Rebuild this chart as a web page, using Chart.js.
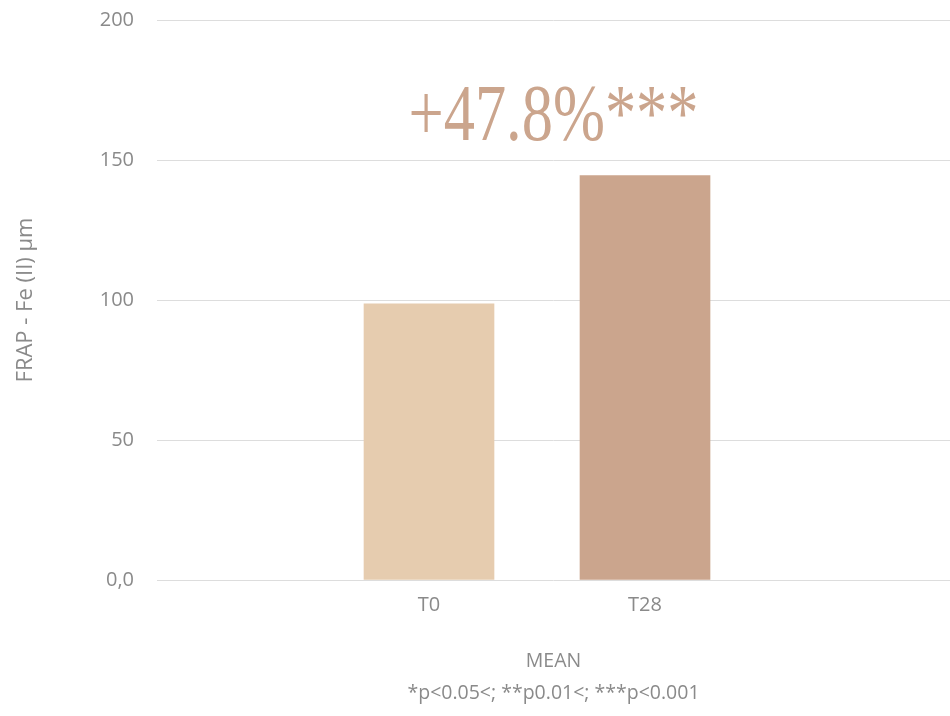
<!DOCTYPE html>
<html>
<head>
<meta charset="utf-8">
<script src="https://cdn.jsdelivr.net/npm/chart.js@4/dist/chart.umd.min.js"></script>
<style>
	html, body { margin: 0; padding: 0; background: #fff; }
	#wrap { width: 950px; height: 716px; }
</style>
</head>
<body>
<div id="wrap"><canvas id="bar-chartcanvas"></canvas></div>
<script>
// data
var categories = ["T0", "T28"];
var meanValues = [98.6, 144.4];
var barColors = ["#e6ccaf", "#cba58d"];
var yTicks = [0, 50, 100, 150, 200];
var yTitle = "FRAP - Fe (II) µm";
var xTitle = ["MEAN", "*p<0.05<; **p0.01<; ***p<0.001"];
var changeLabel = "+47.8%***";

var grey = "#8a8a8a";
var sans = "'Open Sans', sans-serif";

// the big percentage over the bars
var changeText = {
	id : "changeText",
	afterDraw : function(chart) {
		var ctx = chart.ctx;
		var area = chart.chartArea;
		var y = chart.scales.y.getPixelForValue(157);
		var x = (area.left + area.right) / 2;
		ctx.save();
		ctx.font = "80px 'Liberation Serif', serif";
		ctx.fillStyle = "#cba58d";
		ctx.textBaseline = "alphabetic";
		ctx.textAlign = "center";
		var w = ctx.measureText(changeLabel).width;
		var sx = 290 / w;
		ctx.translate(x, y);
		ctx.scale(sx, 1);
		ctx.fillText(changeLabel, 0, 0);
		ctx.restore();
	}
};

var ctx = document.getElementById("bar-chartcanvas");

var data = {
	datasets : [
		{
			label : "MEAN",
			data : categories.map(function(c, i) { return { x : i + 1, y : meanValues[i] }; }),
			backgroundColor : barColors,
			borderWidth : 0,
			barThickness : 130
		}
	]
};

var options = {
	responsive : true,
	maintainAspectRatio : false,
	animation : false,
	layout : {
		padding : { top : 20, right : 0, bottom : 0, left : 0 }
	},
	plugins : {
		legend : { display : false },
		tooltip : { enabled : false }
	},
	scales : {
		x : {
			type : "linear",
			offset : false,
			min : -0.2593,
			max : 3.412,
			afterBuildTicks : function(scale) {
				scale.ticks = categories.map(function(c, i) { return { value : i + 1 }; });
			},
			afterFit : function(scale) { scale.height = 136; },
			grid : { display : false, drawTicks : false },
			border : { display : false },
			ticks : {
				padding : 13,
				color : grey,
				font : { family : sans, size : 20 },
				callback : function(value) { return categories[value - 1]; }
			},
			title : {
				display : true,
				text : xTitle,
				color : grey,
				font : { family : sans, size : 19.5, lineHeight : 1.64 },
				padding : { top : 0, bottom : 7 }
			}
		},
		y : {
			min : 0,
			max : 200,
			afterBuildTicks : function(scale) {
				scale.ticks = yTicks.map(function(v) { return { value : v }; });
			},
			afterFit : function(scale) {
				scale.width = 157;
				scale.paddingTop = 0;
				scale.paddingBottom = 0;
			},
			grid : { color : "#dddddd", drawTicks : false },
			border : { display : false },
			ticks : {
				padding : 23,
				color : grey,
				font : { family : sans, size : 20 },
				callback : function(value) { return value === 0 ? "0,0" : value; }
			},
			title : {
				display : true,
				text : yTitle,
				color : grey,
				font : { family : sans, size : 22 },
				padding : { top : 13, bottom : 0 }
			}
		}
	}
};

var chart = new Chart(ctx, {
	type : "bar",
	data : data,
	options : options,
	plugins : [changeText]
});
</script>
</body>
</html>
